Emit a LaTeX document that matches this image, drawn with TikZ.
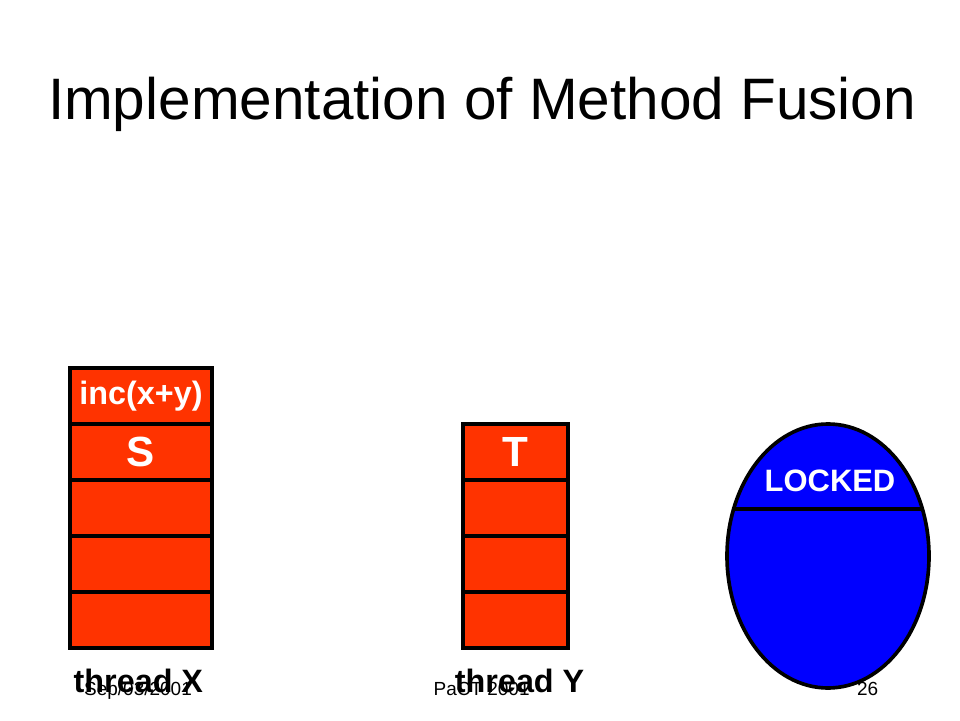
\documentclass[tikz,border=0pt]{standalone}
\usepackage{fontspec}
\setmainfont{Liberation Sans}
\usetikzlibrary{positioning,shapes.geometric}
\definecolor{stackred}{HTML}{FF3300}
\definecolor{lockblue}{HTML}{0000FF}
\tikzset{
frame/.style={rectangle, minimum height=14mm, line width=2.6pt, draw=black!100, fill=stackred, outer sep=0pt, inner sep=0pt, text=white, font=\bfseries\fontsize{23}{27}\selectfont, node distance=0mm},
wideframe/.style={frame, minimum width=35.5mm},
narrowframe/.style={frame, minimum width=26.25mm},
bigletter/.style={font=\bfseries\fontsize{30}{36}\selectfont},
lock/.style={ellipse, minimum width=50.5mm, minimum height=66mm, line width=2.6pt, draw=black!100, fill=lockblue, inner sep=0pt},
threadlabel/.style={anchor=base, font=\bfseries\fontsize{23}{27}\selectfont},
footer/.style={anchor=base, font=\fontsize{13.5}{16}\selectfont}
}

\begin{document}
\begin{tikzpicture}
        \useasboundingbox (0,0) rectangle (24,18);
        \node[anchor=base, font=\fontsize{41.6}{48}\selectfont] (title) at (12.05,15.0) {Implementation of Method Fusion};

        % stack of thread X
        \node[wideframe] (x1) at (3.525,8.1) {inc(x+y)};
        \node[wideframe, bigletter, below=of x1] (x2) {S};
        \node[wideframe, below=of x2] (x3) {};
        \node[wideframe, below=of x3] (x4) {};
        \node[wideframe, below=of x4] (x5) {};

        % stack of thread Y
        \node[narrowframe, bigletter] (y1) at (12.89,6.7) {T};
        \node[narrowframe, below=of y1] (y2) {};
        \node[narrowframe, below=of y2] (y3) {};
        \node[narrowframe, below=of y3] (y4) {};

        % lock
        \node[lock] (lk) at (20.7,4.1) {};
        \draw[line width=2.6pt] (lk.154) -- (lk.26);
        \node[text=white, font=\bfseries\fontsize{22}{26}\selectfont] (locked) at (20.75,5.975) {LOCKED};

        \node[footer] (date) at (3.45,0.625) {Sep/03/2001};
        \node[footer] (conf) at (12.04,0.625) {PaCT 2001};
        \node[footer] (page) at (21.69,0.625) {26};

        \node[threadlabel] (tx) at (3.46,0.7) {thread X};
        \node[threadlabel] (ty) at (12.99,0.7) {thread Y};
    \end{tikzpicture}
\end{document}
